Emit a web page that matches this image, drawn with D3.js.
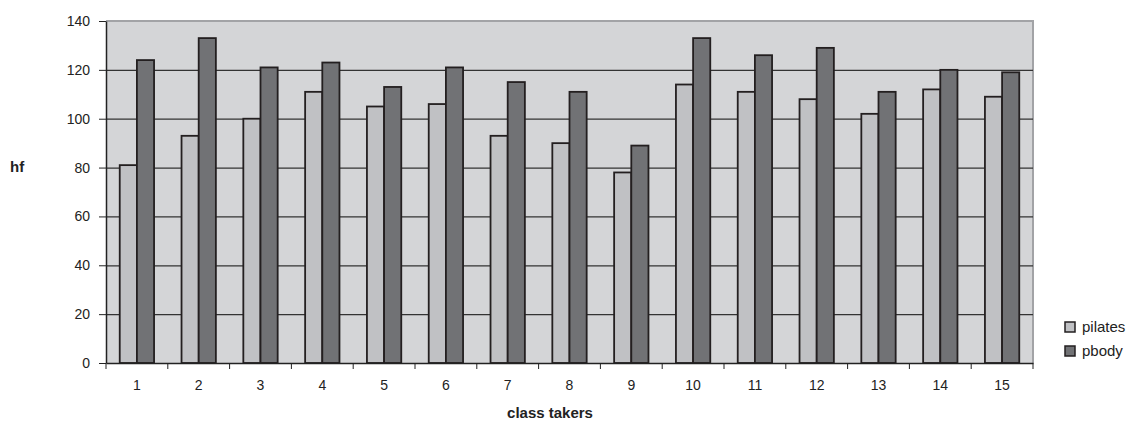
<!DOCTYPE html>
<html>
<head>
<meta charset="utf-8">
<script src="https://cdn.jsdelivr.net/npm/d3@7/dist/d3.min.js"></script>
<style>
body{margin:0;background:#fff;}
text{font-family:"Liberation Sans",Arial,sans-serif;fill:#222;}
</style>
</head>
<body>
<svg id="chart" width="1134" height="423"></svg>
<script>
const categories = ["1","2","3","4","5","6","7","8","9","10","11","12","13","14","15"];
const pilates = [81,93,100,111,105,106,93,90,78,114,111,108,102,112,109];
const pbody = [124,133,121,123,113,121,115,111,89,133,126,129,111,120,119];
const seriesNames = ["pilates","pbody"];
const yTicks = [0,20,40,60,80,100,120,140];
const colors = {pilates:"#c0c1c4", pbody:"#717275"};

const svg = d3.select("#chart");
const L = 106, R = 1033, T = 21, B = 363;

const x = d3.scaleBand().domain(categories).range([L,R]).paddingInner(0).paddingOuter(0);
const x1 = d3.scaleBand().domain(seriesNames).range([0,x.bandwidth()]).paddingInner(0).paddingOuter(0.8);
const y = d3.scaleLinear().domain([0,140]).range([B,T]);

// plot background
svg.append("rect").attr("x",L).attr("y",T).attr("width",R-L).attr("height",B-T).attr("fill","#d4d5d7");
// border top/right
svg.append("path").attr("d",`M${L},${T}H${R}V${B}`).attr("fill","none").attr("stroke","#a2a3a6").attr("stroke-width",2);

// gridlines
svg.append("g").selectAll("line").data(yTicks.filter(d=>d>0 && d<140)).join("line")
  .attr("x1",L).attr("x2",R).attr("y1",d=>y(d)+0.5).attr("y2",d=>y(d)+0.5)
  .attr("stroke","#333").attr("stroke-width",1.2);

// bars
const data = categories.map((c,i)=>({c, vals:[{k:"pilates",v:pilates[i]},{k:"pbody",v:pbody[i]}]}));
const g = svg.append("g").selectAll("g").data(data).join("g").attr("transform",d=>`translate(${x(d.c)},0)`);
g.selectAll("rect").data(d=>d.vals).join("rect")
  .attr("x",d=>x1(d.k)).attr("width",x1.bandwidth())
  .attr("y",d=>y(d.v)).attr("height",d=>B-y(d.v))
  .attr("fill",d=>colors[d.k]).attr("stroke","#231f20").attr("stroke-width",1.8);

// y axis
const yAxis = d3.axisLeft(y).tickValues(yTicks).tickSize(7).tickPadding(9).tickSizeOuter(0);
const ya = svg.append("g").attr("transform",`translate(${L},0)`).call(yAxis);
ya.select(".domain").attr("stroke","#222").attr("stroke-width",1.5);
ya.selectAll(".tick line").attr("stroke","#222");
ya.selectAll("text").style("font-size","14px").attr("fill","#222");

// x axis
const xAxis = d3.axisBottom(x).tickSize(0).tickPadding(17);
const xa = svg.append("g").attr("transform",`translate(0,${B})`).call(xAxis);
xa.select(".domain").attr("stroke","#222").attr("stroke-width",1.5);
xa.selectAll("text").style("font-size","14px").attr("fill","#222");
// boundary ticks
const bounds = categories.map(c=>x(c)).concat([R]);
svg.append("g").selectAll("line").data(bounds).join("line")
  .attr("x1",d=>d).attr("x2",d=>d).attr("y1",B).attr("y2",B+6)
  .attr("stroke","#222").attr("stroke-width",1);

// axis titles
svg.append("text").attr("x",10).attr("y",172).style("font-size","15px").style("font-weight","bold").text("hf");
svg.append("text").attr("x",550).attr("y",418).attr("text-anchor","middle").style("font-size","15px").style("font-weight","bold").text("class takers");

// legend
const lg = svg.append("g").selectAll("g").data(seriesNames).join("g")
  .attr("transform",(d,i)=>`translate(1065,${322+i*24})`);
lg.append("rect").attr("width",10).attr("height",10).attr("fill",d=>colors[d]).attr("stroke","#231f20").attr("stroke-width",1.5);
lg.append("text").attr("x",17).attr("y",10).style("font-size","15px").text(d=>d);
</script>
</body>
</html>
